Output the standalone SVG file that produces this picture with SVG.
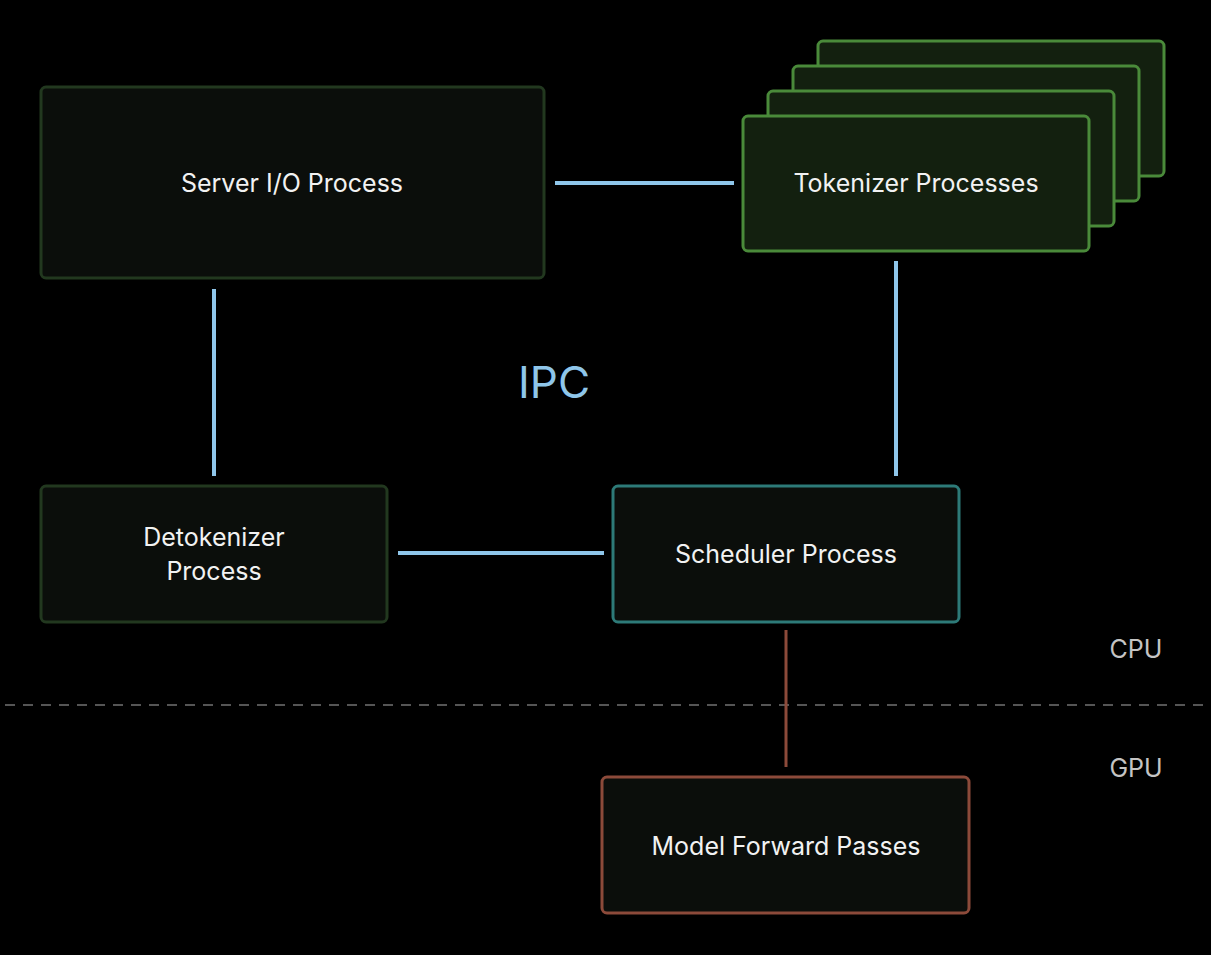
<svg xmlns="http://www.w3.org/2000/svg" width="1211" height="955" viewBox="0 0 1211 955">
<style>
text{font-family:Inter,"Noto Sans",sans-serif;fill:#f2f2f2;font-size:25px;text-anchor:middle}
.g{fill:#0b0e0b;stroke:#22381f;stroke-width:3}
.t{fill:#13200f;stroke:#4a8a3a;stroke-width:3}
.c{stroke:#8fc6ea;stroke-width:4;fill:none}
.lab{fill:#c4c4c4;font-size:25px}
</style>
<rect width="1211" height="955" fill="#000"/>
<line x1="5" y1="705" x2="1211" y2="705" stroke="#555" stroke-width="2" stroke-dasharray="10,8"/>
<g id="connectors">
<line class="c" x1="555" y1="183" x2="734" y2="183"/>
<line class="c" x1="214" y1="289" x2="214" y2="476"/>
<line class="c" x1="896" y1="261" x2="896" y2="476"/>
<line class="c" x1="398" y1="553" x2="604" y2="553"/>
<line x1="786" y1="630" x2="786" y2="767" stroke="#8c4a3a" stroke-width="3"/>
</g>
<g id="server"><rect class="g" x="41" y="87" width="503" height="191" rx="5"/><text x="292" y="192">Server I/O Process</text></g>
<g id="tokenizer">
<rect class="t" x="818" y="41" width="346" height="135" rx="5"/>
<rect class="t" x="793" y="66" width="346" height="135" rx="5"/>
<rect class="t" x="768" y="91" width="346" height="135" rx="5"/>
<rect class="t" x="743" y="116" width="346" height="135" rx="5"/>
<text x="916" y="192">Tokenizer Processes</text></g>
<text x="554" y="398" style="fill:#8fc6ea;font-size:44px">IPC</text>
<g id="detok"><rect class="g" x="41" y="486" width="346" height="136" rx="5"/><text x="214" y="546">Detokenizer</text><text x="214" y="580">Process</text></g>
<g id="scheduler"><rect x="613" y="486" width="346" height="136" rx="5" fill="#0b0e0b" stroke="#2d7a78" stroke-width="3"/><text x="786" y="563">Scheduler Process</text></g>
<g id="model"><rect x="602" y="777" width="367" height="136" rx="5" fill="#0b0e0b" stroke="#8c4a3a" stroke-width="3"/><text x="786" y="855">Model Forward Passes</text></g>
<text class="lab" x="1136" y="658">CPU</text>
<text class="lab" x="1136" y="777">GPU</text>
</svg>
